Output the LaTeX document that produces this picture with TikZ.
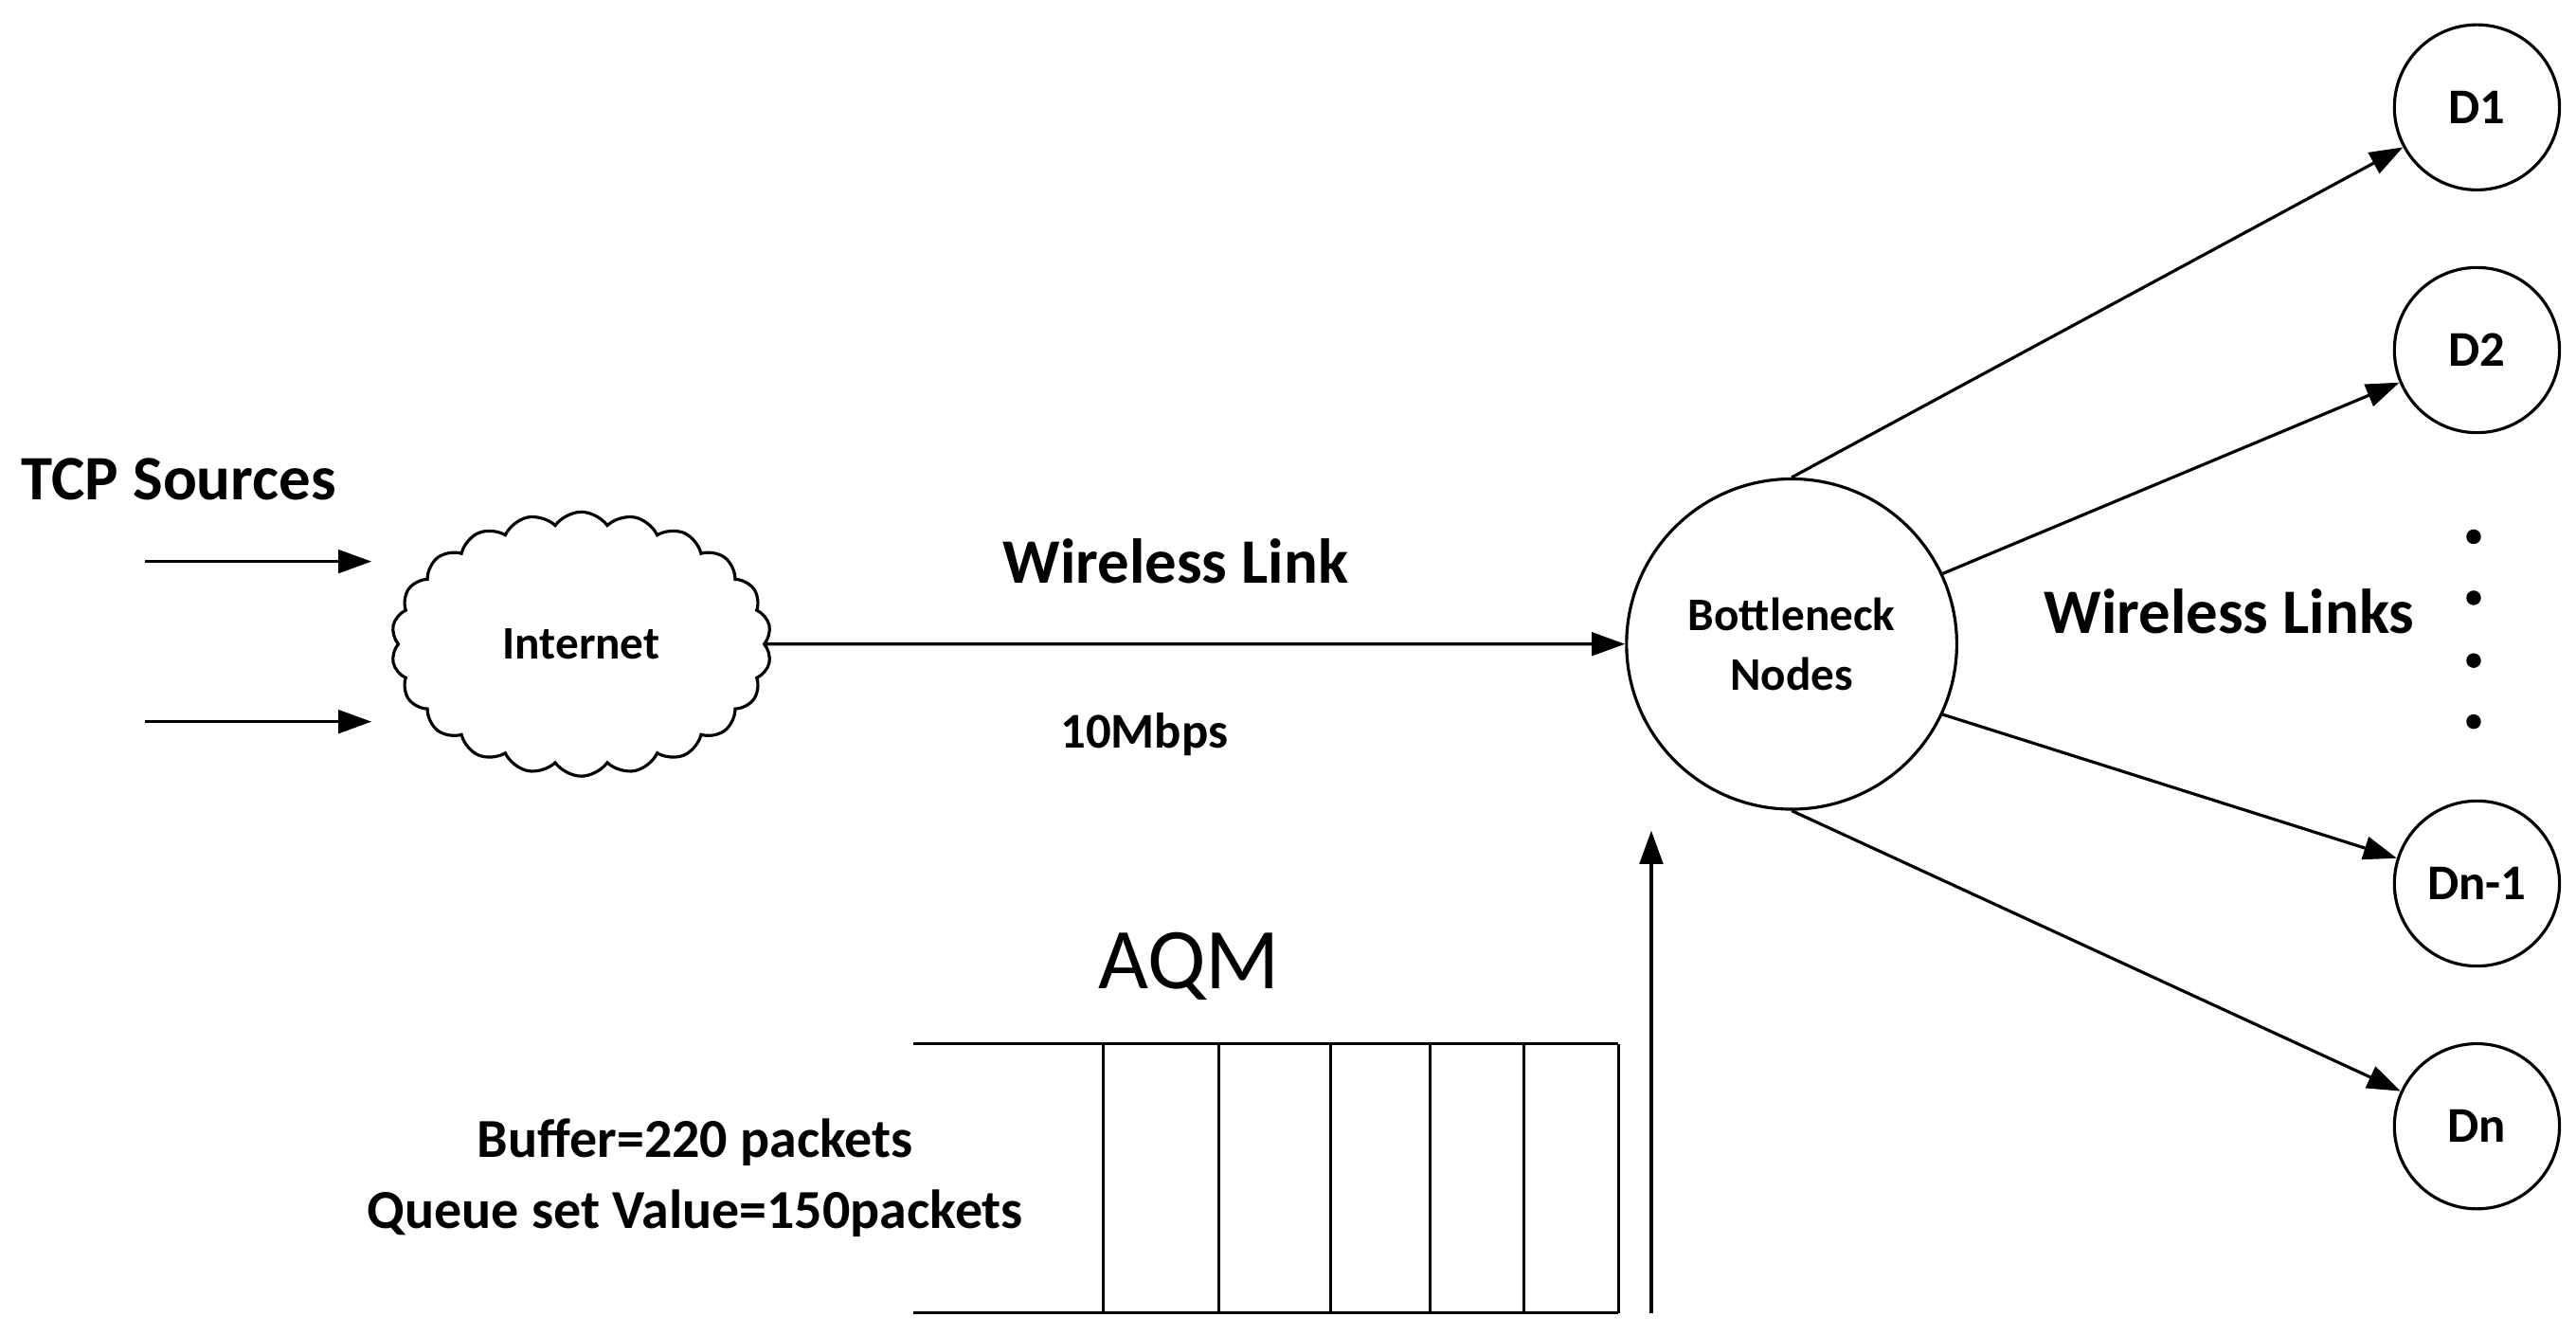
\documentclass[tikz,border=0pt]{standalone}
\usepackage{fontspec}
\setmainfont{Carlito}
\usetikzlibrary{shapes.symbols,arrows.meta}
\begin{document}
\begin{tikzpicture}[x=0.01743cm,y=-0.01743cm,
  ln/.style={line width=0.9pt},
  arr/.style={ln,-{Triangle[length=10pt,width=7pt]}},
  dn/.style={circle,draw,ln,minimum size=100*0.01743cm,font=\fontsize{15}{17}\selectfont\bfseries,inner sep=0pt},
  lbl/.style={font=\fontsize{19}{22}\selectfont\bfseries}]
\useasboundingbox (0,0) rectangle (1560,808);
\node[lbl,anchor=west] (tcp) at (6,290) {TCP Sources};
\coordinate (s1) at (88,340); \coordinate (t1) at (225,340);
\coordinate (s2) at (88,437); \coordinate (t2) at (225,437);
\draw[arr] (s1) -- (t1);
\draw[arr] (s2) -- (t2);
\node[cloud,draw,ln,cloud puffs=22,cloud puff arc=110,aspect=1.4,minimum width=230*0.01743cm,minimum height=160*0.01743cm,font=\fontsize{14}{16}\selectfont\bfseries] (inet) at (352,390) {Internet};
\node[circle,draw,ln,minimum size=200*0.01743cm,inner sep=0pt,align=center,font=\fontsize{14}{18}\selectfont\bfseries] (bn) at (1085,390) {Bottleneck\\Nodes};
\draw[arr] (inet.east) -- (bn.west);
\node[lbl] (wl) at (712,340) {Wireless Link};
\node[font=\fontsize{15}{17}\selectfont\bfseries] (mb) at (693,445) {10Mbps};
\node[dn] (d1) at (1500,65) {D1};
\node[dn] (d2) at (1500,212) {D2};
\node[dn] (d3) at (1500,535) {Dn-1};
\node[dn] (d4) at (1500,682) {Dn};
\draw[arr] (bn.90) -- (d1);
\draw[arr] (bn.25) -- (d2);
\draw[arr] (bn.-25) -- (d3);
\draw[arr] (bn.-90) -- (d4);
\node[lbl] (wls) at (1350,370) {Wireless Links};
\foreach \y in {325,362,400,437} \fill (1498,\y) circle (2.2pt);
\node[font=\fontsize{26}{30}\selectfont] (aqm) at (720,585) {AQM};
\coordinate (qa) at (553,632); \coordinate (qb) at (980,632);
\coordinate (qc) at (553,795); \coordinate (qd) at (980,795);
\draw[ln] (qa) -- (qb); \draw[ln] (qc) -- (qd);
\foreach \x in {668,738,806,866,923,980} \draw[ln] (\x,632) -- (\x,795);
\coordinate (ua) at (1000,795); \coordinate (ub) at (1000,503);
\draw[arr] (ua) -- (ub);
\node[font=\fontsize{16.5}{19}\selectfont\bfseries] (buf) at (421,692) {Buffer=220 packets};
\node[font=\fontsize{16.5}{19}\selectfont\bfseries] (qs) at (421,735) {Queue set Value=150packets};
\end{tikzpicture}
\end{document}
